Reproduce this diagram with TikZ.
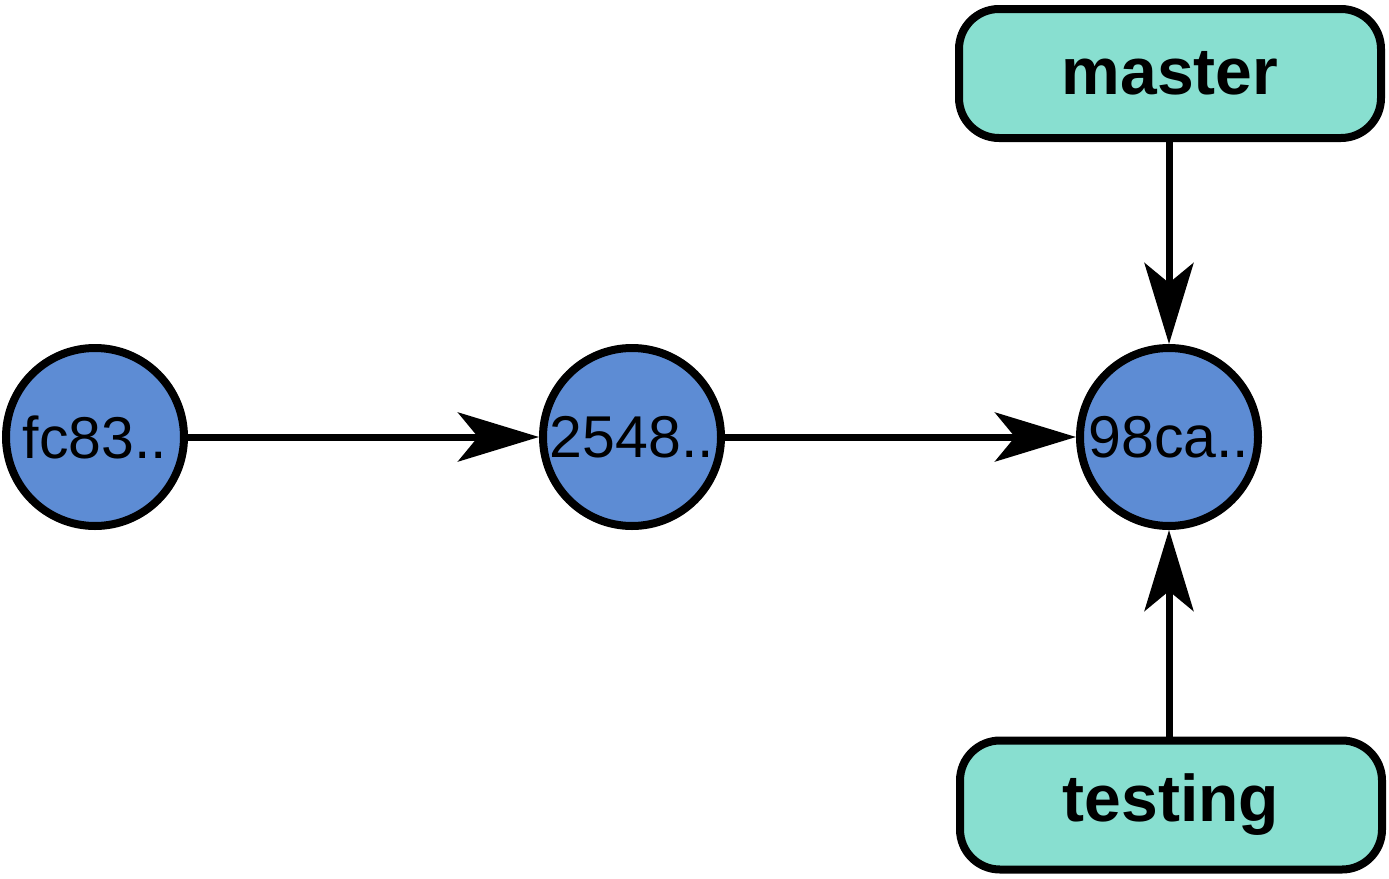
\documentclass[tikz,border=0pt]{standalone}
\usepackage{fontspec}
\setmainfont{Liberation Sans}
\usetikzlibrary{arrows.meta}
\definecolor{commitblue}{RGB}{93,140,212}
\definecolor{branchgreen}{RGB}{136,223,208}
\tikzset{
  commit/.style={circle,draw=black,line width=8pt,fill=commitblue,minimum size=178pt,inner sep=0pt,font=\fontsize{59}{62}\selectfont},
  branch/.style={rectangle,draw=black,line width=8pt,fill=branchgreen,rounded corners=40pt,minimum width=422pt,minimum height=129pt,inner sep=0pt,font=\fontsize{66}{70}\selectfont\bfseries},
  link/.style={line width=7pt,-{Stealth[length=81pt,width=49pt,inset=20pt]}}
}
\begin{document}
\begin{tikzpicture}[x=1pt,y=-1pt]
\useasboundingbox (0,0) rectangle (1389,878);
\node[commit] (c1) at (95,437) {fc83..};
\node[commit] (c2) at (632,437) {2548..};
\node[commit] (c3) at (1169,437) {98ca..};
\node[branch] (master) at (1170,73.5) {master};
\node[branch] (testing) at (1171,805) {testing};
\draw[link] (c1) -- (c2);
\draw[link] (c2) -- (c3);
\draw[link] (master.south -| c3) -- (c3);
\draw[link] (testing.north -| c3) -- (c3);
\end{tikzpicture}
\end{document}
